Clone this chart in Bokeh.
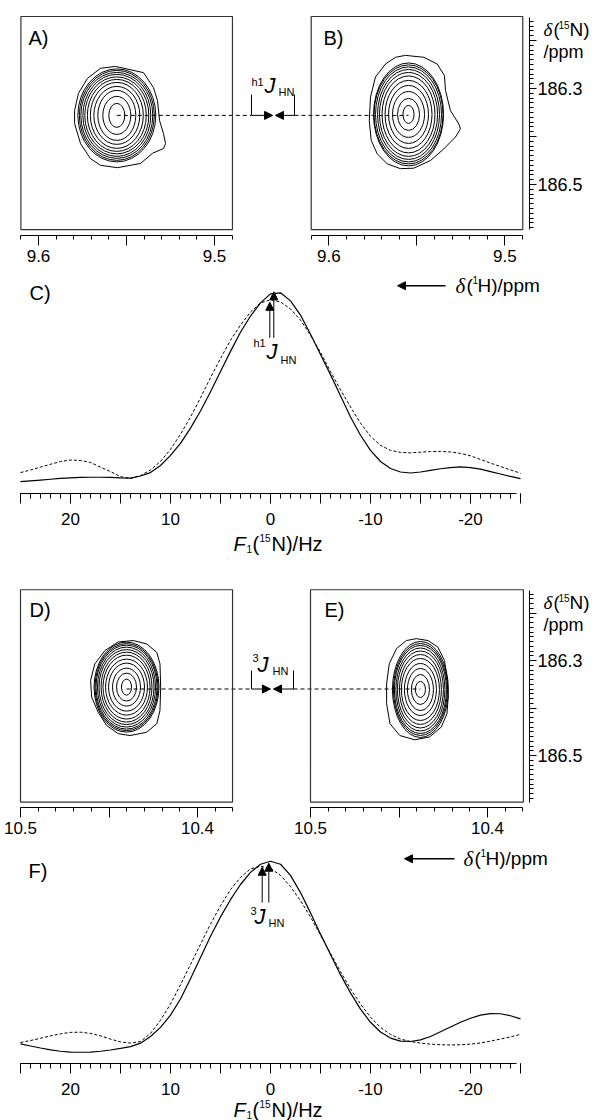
from bokeh.plotting import figure
from bokeh.layouts import column
from bokeh.models import (Range1d, FixedTicker, CustomJSTickFormatter, BoxAnnotation,
                          Label, Arrow, NormalHead, LinearAxis)
from bokeh.embed import file_html
from bokeh.resources import INLINE

SANS = "Liberation Sans"
SERIF = "Liberation Serif"
W = 597

# ---------------- 1D traces (C and F): F1(15N) offset / Hz, normalised intensity ----------------
hz = list(range(25, -26, -1))
c_solid = [0.060, 0.064, 0.068, 0.072, 0.076, 0.079, 0.081, 0.082, 0.082, 0.081,
           0.079, 0.078, 0.088, 0.105, 0.140, 0.190, 0.250, 0.325, 0.410, 0.505,
           0.605, 0.705, 0.800, 0.880, 0.945, 0.990, 0.995, 0.955, 0.885, 0.790,
           0.690, 0.590, 0.485, 0.380, 0.290, 0.215, 0.160, 0.125, 0.108, 0.103,
           0.108, 0.116, 0.124, 0.130, 0.133, 0.130, 0.122, 0.110, 0.098, 0.086, 0.075]
c_dashed = [0.105, 0.118, 0.132, 0.146, 0.160, 0.167, 0.165, 0.155, 0.132, 0.110,
            0.085, 0.076, 0.090, 0.118, 0.160, 0.220, 0.295, 0.380, 0.475, 0.575,
            0.670, 0.760, 0.835, 0.900, 0.945, 0.960, 0.950, 0.915, 0.860, 0.785,
            0.700, 0.605, 0.515, 0.430, 0.350, 0.285, 0.240, 0.215, 0.205, 0.203,
            0.206, 0.209, 0.210, 0.207, 0.200, 0.188, 0.170, 0.152, 0.135, 0.118, 0.102]
f_solid = [0.098, 0.088, 0.078, 0.069, 0.062, 0.058, 0.057, 0.058, 0.062, 0.068,
           0.076, 0.085, 0.102, 0.135, 0.180, 0.240, 0.320, 0.420, 0.525, 0.630,
           0.725, 0.810, 0.885, 0.945, 0.985, 1.000, 0.985, 0.930, 0.845, 0.745,
           0.640, 0.540, 0.440, 0.350, 0.270, 0.205, 0.157, 0.127, 0.112, 0.110,
           0.118, 0.135, 0.158, 0.182, 0.205, 0.225, 0.240, 0.248, 0.247, 0.237, 0.222]
f_dashed = [0.105, 0.115, 0.126, 0.138, 0.148, 0.155, 0.156, 0.150, 0.138, 0.122,
            0.108, 0.102, 0.110, 0.150, 0.215, 0.295, 0.390, 0.490, 0.590, 0.690,
            0.780, 0.860, 0.920, 0.962, 0.975, 0.965, 0.930, 0.875, 0.805, 0.725,
            0.635, 0.545, 0.455, 0.370, 0.295, 0.230, 0.180, 0.145, 0.122, 0.110,
            0.102, 0.097, 0.094, 0.093, 0.094, 0.097, 0.103, 0.112, 0.122, 0.133, 0.145]
# peak maxima marked by the vertical arrows: (Hz, intensity) of dashed and solid trace
c_peak_hz = [0.07, -0.33]
c_peak_val = [0.948, 1.0]
f_peak_hz = [0.83, 0.17]
f_peak_val = [0.97, 0.99]

# ---------------- 2D contour maps: 1H ppm (x), 15N ppm (y) ----------------
a_center = (9.5555, 186.356)
a_w = [0.0091, 0.0159, 0.0216, 0.0261, 0.0301, 0.0335, 0.0364, 0.0386, 0.0409, 0.0426, 0.0443]
a_h = [0.0500, 0.0792, 0.1042, 0.1208, 0.1375, 0.1500, 0.1604, 0.1708, 0.1792, 0.1875, 0.1938]
a_outer_x = [9.5563, 9.5403, 9.5347, 9.5324, 9.5312, 9.5290, 9.5278, 9.5290, 9.5352, 9.5420,
             9.5551, 9.5648, 9.5705, 9.5761, 9.5795, 9.5795, 9.5773, 9.5722, 9.5648]
a_outer_y = [186.254, 186.267, 186.298, 186.325, 186.367, 186.394, 186.415, 186.425, 186.435, 186.456,
             186.465, 186.460, 186.446, 186.415, 186.373, 186.346, 186.310, 186.279, 186.258]

b_center = (9.5547, 186.354)
b_w = [0.0063, 0.0125, 0.0182, 0.0227, 0.0267, 0.0301, 0.0330, 0.0352, 0.0375, 0.0392, 0.0398]
b_h = [0.0375, 0.0667, 0.0958, 0.1208, 0.1417, 0.1604, 0.1750, 0.1875, 0.1979, 0.2063, 0.2146]
b_outer_x = [9.5564, 9.5460, 9.5384, 9.5343, 9.5337, 9.5309, 9.5261, 9.5252, 9.5280, 9.5347, 9.5422,
             9.5517, 9.5593, 9.5668, 9.5725, 9.5759, 9.5770, 9.5763, 9.5735, 9.5678, 9.5621]
b_outer_y = [186.231, 186.235, 186.249, 186.273, 186.304, 186.346, 186.374, 186.384, 186.401, 186.426, 186.450,
             186.466, 186.467, 186.457, 186.436, 186.408, 186.367, 186.318, 186.276, 186.249, 186.235]

d_center = (10.4401, 186.356)
d_w = [0.0057, 0.0113, 0.0158, 0.0203, 0.0237, 0.0266, 0.0288, 0.0311, 0.0328, 0.0345, 0.0356, 0.0367]
d_h = [0.0337, 0.0589, 0.0800, 0.1011, 0.1179, 0.1347, 0.1474, 0.1579, 0.1684, 0.1768, 0.1832, 0.1895]
d_outer_x = [10.4363, 10.4287, 10.4230, 10.4212, 10.4208, 10.4212, 10.4230, 10.4287, 10.4381,
             10.4448, 10.4513, 10.4561, 10.4598, 10.4604, 10.4580, 10.4523, 10.4448]
d_outer_y = [186.258, 186.265, 186.283, 186.307, 186.356, 186.405, 186.433, 186.451, 186.458,
             186.454, 186.437, 186.409, 186.377, 186.342, 186.307, 186.279, 186.261]

e_center = (10.4379, 186.361)
e_w = [0.0057, 0.0102, 0.0147, 0.0181, 0.0215, 0.0237, 0.0260, 0.0277, 0.0294, 0.0305, 0.0316]
e_h = [0.0337, 0.0632, 0.0884, 0.1095, 0.1305, 0.1474, 0.1621, 0.1747, 0.1853, 0.1937, 0.2021]
e_outer_x = [10.4402, 10.4336, 10.4280, 10.4243, 10.4229, 10.4222, 10.4229, 10.4261, 10.4327,
             10.4411, 10.4495, 10.4551, 10.4570, 10.4570, 10.4555, 10.4514, 10.4458]
e_outer_y = [186.254, 186.258, 186.272, 186.300, 186.335, 186.377, 186.412, 186.440, 186.461,
             186.467, 186.458, 186.433, 186.391, 186.349, 186.307, 186.275, 186.258]

# tick positions / labels
ppm1_major = [9.5, 9.55, 9.6]
ppm1_minor = [round(9.49 + 0.01 * i, 2) for i in range(13)]
ppm2_major = [10.4, 10.45, 10.5]
ppm2_minor = [round(10.38 + 0.01 * i, 2) for i in range(13)]
n_major = [186.2, 186.3, 186.4, 186.5]
n_minor = [round(186.16 + 0.01 * i, 2) for i in range(44)]
hz_major = list(range(-25, 26, 5))
hz_minor = list(range(-25, 26, 1))

FMT_PPM = "return (Math.abs(tick*10 - Math.round(tick*10)) < 1e-6) ? tick.toFixed(1) : '';"
FMT_N = ("const k = Math.round(tick*10);"
         "return (Math.abs(tick*10 - k) < 1e-6 && k % 2 == 1) ? tick.toFixed(1) : '';")
FMT_HZ = "return (Math.round(tick) % 10 == 0) ? tick.toFixed(0) : '';"


# ---------------- helpers (layout only) ----------------
def xr(v, px, s):
    """x range for a full-width frame: value v sits at page-x px, s pixels per unit, decreasing rightwards"""
    return Range1d(v + px / s, v - (W - px) / s)


def yr_down(v, py, s, top, bottom):
    """values increase downwards (ppm scale)"""
    return Range1d(v + (bottom - py) / s, v - (py - top) / s)


def yr_up(v, py, s, top, bottom):
    return Range1d(v - (bottom - py) / s, v + (py - top) / s)


def make_fig(h, xrange, yrange):
    p = figure(width=W, height=h, x_range=xrange, y_range=yrange, title=None,
               output_backend="svg", toolbar_location=None,
               x_axis_location=None, y_axis_location=None, min_border=0)
    p.outline_line_color = None
    p.grid.visible = False
    p.background_fill_color = "white"
    p.border_fill_color = "white"
    return p


def add_axis(p, side, major, minor, code, tout, mout, standoff, fixed, bounds=None,
             xname="default", size=17):
    ax = LinearAxis(x_range_name=xname, fixed_location=fixed)
    ax.ticker = FixedTicker(ticks=major, minor_ticks=minor)
    ax.formatter = CustomJSTickFormatter(code=code)
    ax.major_tick_out = tout
    ax.major_tick_in = 0
    ax.minor_tick_out = mout
    ax.minor_tick_in = 0
    ax.major_label_standoff = standoff
    ax.major_label_text_font = SANS
    ax.major_label_text_font_size = f"{size}px"
    ax.major_label_text_color = "black"
    ax.axis_line_color = "black"
    ax.major_tick_line_color = "black"
    ax.minor_tick_line_color = "black"
    ax.axis_line_width = 1
    if bounds is not None:
        ax.bounds = bounds
    p.add_layout(ax, side)


def lab(p, text, x, y, fb, size=17, style="normal", font=SANS):
    # x, y: page pixel position of the text's left/middle; fb: page y of the figure's bottom
    p.add_layout(Label(x=x, y=fb - y, x_units="screen", y_units="screen",
                       text=text, text_font=font, text_font_size=f"{size}px",
                       text_font_style=style, text_color="black",
                       text_align="left", text_baseline="middle"))


def contours(p, center, ws, hs, ox, oy, xname="default"):
    n = len(ws)
    p.ellipse(x=[center[0]] * n, y=[center[1]] * n, width=ws, height=hs,
              fill_color=None, line_color="black", line_width=1, x_range_name=xname)
    p.patch(ox, oy, fill_color=None, line_color="black", line_width=1, x_range_name=xname)


def hline(p, x0, x1, y, dash=None, xname="default"):
    kw = dict(line_color="black", line_width=1, x_range_name=xname)
    if dash:
        kw["line_dash"] = dash
    p.line([x0, x1], [y, y], **kw)


def vbar_line(p, x, y0, y1, xname="default"):
    p.line([x, x], [y0, y1], line_color="black", line_width=1, x_range_name=xname)


def arrow(p, x0, y0, x1, y1, size=8, lw=1, xname="default"):
    p.add_layout(Arrow(x_start=x0, y_start=y0, x_end=x1, y_end=y1, line_color="black",
                       line_width=lw, x_range_name=xname,
                       end=NormalHead(size=size, fill_color="black", line_color="black",
                                      line_width=1)))


def box(p, l, r, t, b, xname="default"):
    p.add_layout(BoxAnnotation(left=l, right=r, top=t, bottom=b, fill_color=None, fill_alpha=0,
                               line_color="#333333", line_alpha=1.0, line_width=1.2,
                               x_range_name=xname))


def delta_title(p, fb, y):
    lab(p, "δ", 543, y, fb, 19, "italic", SERIF)
    lab(p, "(", 553, y, fb, 18)
    lab(p, "15", 558, y - 5, fb, 10)
    lab(p, "N)", 569, y, fb, 19)
    lab(p, "/ppm", 543, y + 22, fb, 18)


def h_label(p, fb, x, y):
    lab(p, "δ", x, y, fb, 21, "italic", SERIF)
    lab(p, "(", x + 11, y, fb, 19)
    lab(p, "1", x + 17, y - 6, fb, 10)
    lab(p, "H)/ppm", x + 22, y, fb, 19)


def f1_label(p, fb, y):
    lab(p, "F", 233, y, fb, 20, "italic")
    lab(p, "1", 246, y + 5, fb, 10)
    lab(p, "(", 252, y, fb, 20)
    lab(p, "15", 259, y - 6, fb, 10)
    lab(p, "N)/Hz", 271, y, fb, 20)


# ============ Row 1: A and B (page y 0..268) ============
p1 = make_fig(268, xr(9.6, 38, 1760), yr_down(186.3, 88, 480, 0, 268))
p1.extra_x_ranges = {"B": xr(9.6, 328.3, 1760)}
axis_y1 = 186.606    # 15N ppm level where the 1H axes are drawn
add_axis(p1, "below", ppm1_major, ppm1_minor, FMT_PPM, 10, 4, 5, axis_y1, (9.49, 9.61))
add_axis(p1, "below", ppm1_major, ppm1_minor, FMT_PPM, 10, 4, 5, axis_y1, (9.49, 9.61), "B")
add_axis(p1, "right", n_major, n_minor, FMT_N, 7, 4, 1, 9.486, (186.152, 186.594), "B", 18)
box(p1, 9.61, 9.4898, 186.15, 186.594)
box(p1, 9.61, 9.4898, 186.15, 186.594, "B")
contours(p1, a_center, a_w, a_h, a_outer_x, a_outer_y)
contours(p1, b_center, b_w, b_h, b_outer_x, b_outer_y, "B")
y1 = 186.356
hline(p1, a_center[0], 9.4790, y1, "4 3")
vbar_line(p1, 9.4790, 186.3125, y1)
arrow(p1, 9.4790, y1, 9.4670, y1)
vbar_line(p1, 9.6195, 186.3125, y1, "B")
arrow(p1, 9.6195, y1, 9.6303, y1, xname="B")
hline(p1, 9.6195, b_center[0], y1, "4 3", "B")
lab(p1, "A)", 28, 37, 268, 20)
lab(p1, "B)", 323, 37, 268, 20)
lab(p1, "h1", 251, 81, 268, 11)
lab(p1, "J", 264, 85, 268, 22, "italic")
lab(p1, "HN", 278, 91, 268, 11)
delta_title(p1, 268, 29)

# ============ C (page y 268..556) ============
pC = make_fig(288, xr(0, 270, 10), yr_up(0, 493.3, 202, 268, 556))
add_axis(pC, "below", hz_major, hz_minor, FMT_HZ, 10, 5, 9, 0, (-24.6, 25))
pC.line(hz, c_dashed, line_color="black", line_width=1, line_dash="3 2")
pC.line(hz, c_solid, line_color="black", line_width=1.2)
for xh, yv in zip(c_peak_hz, c_peak_val):
    arrow(pC, xh, 0.772, xh, yv, 8)
arrow(pC, -17.5, 1.03, -12.7, 1.03, 8, 1.3)
lab(pC, "C)", 29, 292, 556, 20)
lab(pC, "h1", 253, 342, 556, 11)
lab(pC, "J", 266, 351, 556, 22, "italic")
lab(pC, "HN", 280, 359, 556, 11)
h_label(pC, 556, 455, 285)
f1_label(pC, 556, 543)

# ============ Row 2: D and E (page y 556..840) ============
p2 = make_fig(284, xr(10.5, 20, 1770), yr_down(186.3, 660, 475, 556, 840))
p2.extra_x_ranges = {"E": xr(10.5, 310, 1770)}
axis_y2 = 186.610
add_axis(p2, "below", ppm2_major, ppm2_minor, FMT_PPM, 10, 4, 4, axis_y2, (10.38, 10.5))
add_axis(p2, "below", ppm2_major, ppm2_minor, FMT_PPM, 10, 4, 4, axis_y2, (10.38, 10.5), "E")
add_axis(p2, "right", n_major, n_minor, FMT_N, 7, 4, 1, 10.3763, (186.153, 186.598), "E", 18)
box(p2, 10.5, 10.3802, 186.151, 186.598)
box(p2, 10.5, 10.3797, 186.151, 186.598, "E")
contours(p2, d_center, d_w, d_h, d_outer_x, d_outer_y)
contours(p2, e_center, e_w, e_h, e_outer_x, e_outer_y, "E")
y2 = 186.36
hline(p2, d_center[0], 10.3695, y2, "4 3")
vbar_line(p2, 10.3695, 186.321, y2)
arrow(p2, 10.3695, y2, 10.3588, y2)
vbar_line(p2, 10.5096, 186.321, y2, "E")
arrow(p2, 10.5096, y2, 10.5209, y2, xname="E")
hline(p2, 10.5096, e_center[0], y2, "4 3", "E")
lab(p2, "D)", 29, 609, 840, 20)
lab(p2, "E)", 324, 609, 840, 20)
lab(p2, "3", 252, 657, 840, 11)
lab(p2, "J", 257, 664, 840, 22, "italic")
lab(p2, "HN", 272, 670, 840, 11)
delta_title(p2, 840, 602)

# ============ F (page y 840..1120) ============
pF = make_fig(280, xr(0, 270, 10), yr_up(0, 1063.3, 202.6, 840, 1120))
add_axis(pF, "below", hz_major, hz_minor, FMT_HZ, 10, 5, 9, 0, (-24.6, 25))
pF.line(hz, f_dashed, line_color="black", line_width=1, line_dash="3 2")
pF.line(hz, f_solid, line_color="black", line_width=1.2)
for xh, yv in zip(f_peak_hz, f_peak_val):
    arrow(pF, xh, 0.796, xh, yv, 8)
arrow(pF, -18.4, 1.012, -13.4, 1.012, 8, 1.3)
lab(pF, "F)", 28, 870, 1120, 20)
lab(pF, "3", 250, 910, 1120, 11)
lab(pF, "J", 254, 916, 1120, 22, "italic")
lab(pF, "HN", 268, 922, 1120, 11)
h_label(pF, 1120, 463, 858)
f1_label(pF, 1120, 1109)

layout = column(p1, pC, p2, pF)
open("out.html", "w").write(file_html(layout, INLINE))
